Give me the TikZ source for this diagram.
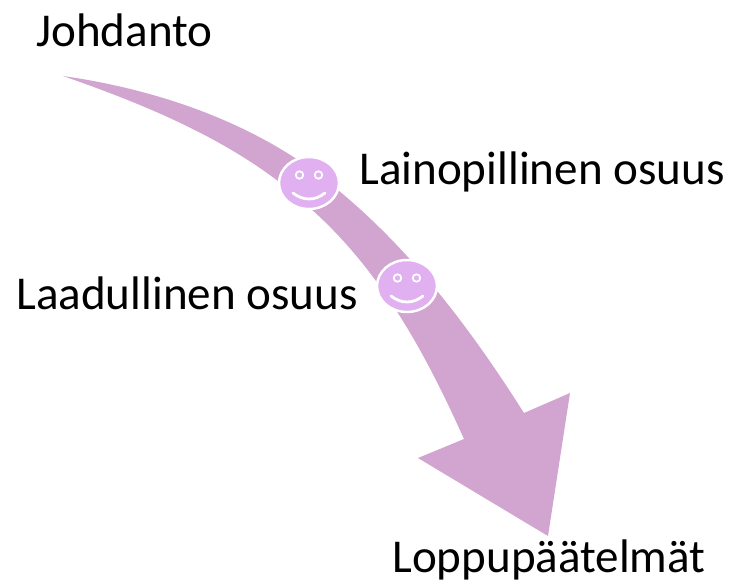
\documentclass[tikz,border=0pt]{standalone}
\usepackage{fontspec}
\setmainfont{Carlito}
\usetikzlibrary{shapes.geometric}
\definecolor{arrowpink}{HTML}{D1A5CF}
\definecolor{facepink}{HTML}{E0B0F0}
\tikzstyle{otsikko}=[font=\fontsize{26.8pt}{32pt}\selectfont, inner sep=0pt, anchor=base west, text=black]
\tikzstyle{naama}=[ellipse, draw=white, fill=facepink, line width=1.4pt, minimum width=1.2cm, minimum height=1.04cm, inner sep=0pt]
\tikzstyle{silma}=[circle, draw=white, line width=1pt, fill=facepink, minimum size=0.15cm, inner sep=0pt]

\begin{document}
\begin{tikzpicture}[x=0.02cm, y=-0.02cm]
	\useasboundingbox (0,0) rectangle (735,582);
	\path[fill=arrowpink] (63,76) .. controls (161,90) and (262,125) .. (338,190)
		.. controls (413,252) and (472,331) .. (524,413)
		-- (570,393) -- (548,536) -- (418,458) -- (464,439)
		.. controls (425,352) and (380,270) .. (310,208)
		.. controls (242,144) and (149,106) .. (63,76) -- cycle;
	\node[naama] (n1) at (309,183) {};
	\node[naama] (n2) at (407,286) {};
	\foreach \n in {n1,n2}{
		\node[silma] (\n l) at ([shift={(-9.5,-8)}]\n.center) {};
		\node[silma] (\n r) at ([shift={(9.5,-8)}]\n.center) {};
		\draw[white, line width=1.6pt, line cap=round] ([shift={(-16,10)}]\n.center) .. controls ([shift={(-6,18)}]\n.center) and ([shift={(6,18)}]\n.center) .. ([shift={(16,10)}]\n.center);
	}
	\node[otsikko] (johdanto) at (36,46) {Johdanto};
	\node[otsikko] (lainopillinen) at (359,184) {Lainopillinen osuus};
	\node[otsikko] (laadullinen) at (16,309) {Laadullinen osuus};
	\node[otsikko] (loppu) at (392,572) {Loppupäätelmät};
\end{tikzpicture}
\end{document}
